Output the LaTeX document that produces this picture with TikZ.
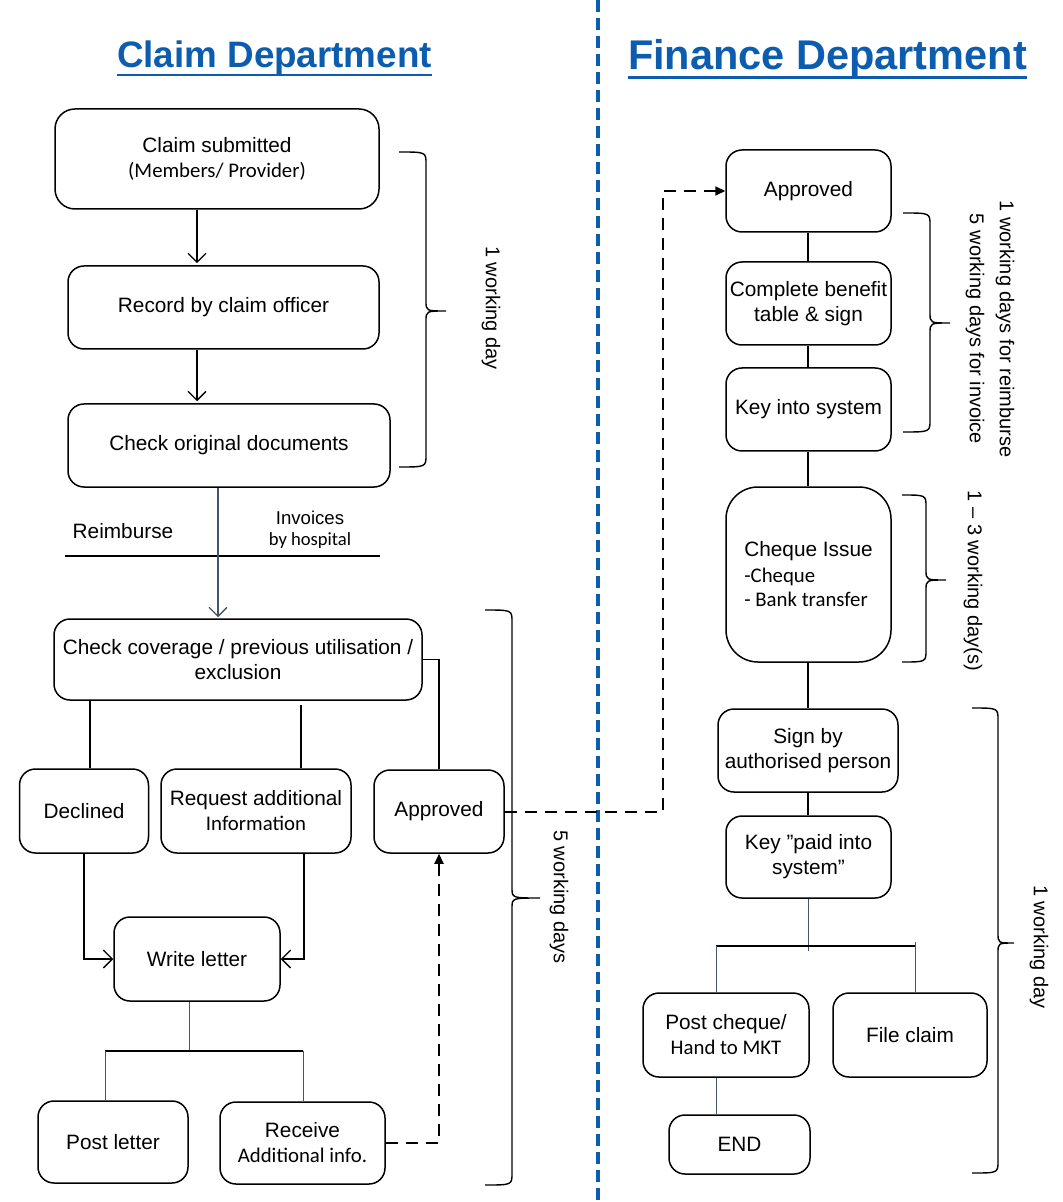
\documentclass[tikz,border=0pt]{standalone}
\usepackage{fontspec}
\setmainfont{Liberation Sans}
\newfontfamily\calib{Carlito}
\usetikzlibrary{arrows.meta,calc}
\definecolor{hblue}{RGB}{12,92,175}
\definecolor{slate}{RGB}{68,84,106}
\tikzset{
  box/.style={draw, line width=0.75pt, rounded corners=8pt, align=center, inner sep=0pt,
    font=\fontsize{10.4pt}{12.5pt}\selectfont},
  lbl/.style={align=center, inner sep=0pt, font=\fontsize{10.4pt}{12.5pt}\selectfont},
  conn/.style={line width=0.65pt},
  arr/.style={conn, -{Straight Barb[length=4.5pt,width=9pt]}},
  dsh/.style={line width=1pt, dash pattern=on 6pt off 4pt, -{Triangle[length=5pt,width=4.5pt]}},
  thinl/.style={draw=slate, line width=0.5pt},
  brc/.style={line width=0.7pt},
  rot/.style={rotate=-90, font=\fontsize{10pt}{15pt}\selectfont, align=center, inner sep=0pt},
  head/.style={text=hblue, font=\bfseries, inner sep=0pt, anchor=base},
}
\begin{document}
\begin{tikzpicture}[x=0.5pt,y=-0.5pt]
\useasboundingbox (0,0) rectangle (1063,1202);

% headers
\node[head, font=\bfseries\fontsize{18.4pt}{20pt}\selectfont] (hc) at (274.5,68) {Claim Department};
\node[head, font=\bfseries\fontsize{20.75pt}{22pt}\selectfont] (hf) at (827.5,70) {Finance Department};
\coordinate (u1) at (0,75);
\coordinate (u2) at (0,77.5);
\draw[hblue, line width=1.4pt] (hc.west |- u1) -- (hc.east |- u1);
\draw[hblue, line width=1.9pt] (hf.west |- u2) -- (hf.east |- u2);

% divider
\coordinate (dtop) at (598,0);
\coordinate (dbot) at (598,1202);
\draw[hblue, line width=2pt, dash pattern=on 6pt off 3pt] (dtop) -- (dbot);

% ---------- Claim department ----------
\node[box, rounded corners=10pt, minimum width=162pt, minimum height=50pt] (cs) at (217,159)
  {Claim submitted\\{\calib (Members/ Provider)}};
\node[box, minimum width=155.5pt, minimum height=41.5pt] (rec) at (223.5,307.5) {Record by claim officer};
\node[box, minimum width=161pt, minimum height=41.5pt] (cod) at (229,445.5) {Check original documents};

\coordinate (a1) at (197,0);
\draw[arr] (cs.south -| a1) -- ($(rec.north -| a1)+(0,-2)$);
\draw[arr] (rec.south -| a1) -- ($(cod.north -| a1)+(0,-2)$);

\node[lbl] (reim) at (123,531) {Reimburse};
\node[lbl, font=\fontsize{9.3pt}{10.5pt}\selectfont] (inv) at (310,530) {Invoices\\{\calib by hospital}};
\coordinate (hl1) at (65,556);
\coordinate (hl2) at (380,556);
\draw[conn] (hl1) -- (hl2);

\node[box, minimum width=184pt, minimum height=40.5pt] (cc) at (238,659.5)
  {Check coverage / previous utilisation /\\exclusion};
\coordinate (a2) at (218,0);
\draw[arr, draw=slate] (cod.south -| a2) -- ($(cc.north -| a2)+(0,-1)$);

\node[box, minimum width=64.5pt, minimum height=42pt] (dec) at (84,811) {Declined};
\node[box, minimum width=95pt, minimum height=42pt] (req) at (256,811)
  {Request additional\\{\calib Information}};
\node[box, minimum width=65pt, minimum height=41.5pt] (app) at (439,811.5) {Approved};

\coordinate (c90) at (90,0);
\coordinate (c301) at (301,0);
\coordinate (c304) at (304,0);
\draw[conn] (cc.east) -| (app.north);
\draw[conn] (cc.south -| c90) -- (dec.north -| c90);
\draw[conn] ($(cc.south -| c301)+(0,4)$) -- (req.north -| c301);

\node[box, minimum width=83pt, minimum height=42pt] (wl) at (197,959) {Write letter};
\draw[arr] (dec.south) |- (wl.west);
\draw[arr] (req.south -| c304) |- (wl.east);

\node[box, minimum width=75pt, minimum height=41pt] (pl) at (113,1142) {Post letter};
\node[box, minimum width=82.5pt, minimum height=41pt] (rc) at (302.5,1143)
  {Receive\\{\calib Additional info.}};

\coordinate (t1) at (189,1051);
\coordinate (t1l) at (105,1051);
\coordinate (t1r) at (303,1051);
\draw[thinl] (wl.south -| t1) -- (t1);
\draw[conn] (t1l) -- (t1r);
\draw[thinl] (t1l) -- (pl.north -| t1l);
\draw[thinl] (t1r) -- (rc.north -| t1r);

\draw[dsh] (rc.east) -| (app.south);

% ---------- Finance department ----------
\node[box, minimum width=82.5pt, minimum height=41pt] (fa) at (808.5,191) {Approved};
\node[box, minimum width=82.5pt, minimum height=41.5pt] (cb) at (808.5,303.5) {Complete benefit\\table \& sign};
\node[box, minimum width=82.5pt, minimum height=41.5pt] (ks) at (808.5,409.5) {Key into system};
\node[box, rounded corners=16pt, minimum width=82.5pt, minimum height=87.5pt, align=left] (ci) at (808.5,574.5)
  {Cheque Issue\\[0.5pt]{\calib -Cheque}\\[-0.5pt]{\calib - Bank transfer}};
\node[box, minimum width=90pt, minimum height=41.5pt] (sp) at (808,750.5) {Sign by\\authorised person};
\node[box, minimum width=82.5pt, minimum height=41pt] (kp) at (808.5,857) {Key ”paid into\\system”};

\coordinate (c663) at (663,500);
\draw[dsh] (app.east) -| (c663) |- (fa.west);

\coordinate (v8) at (808,0);
\draw[conn] (fa.south -| v8) -- (cb.north -| v8);
\draw[conn] (cb.south -| v8) -- (ks.north -| v8);
\draw[conn] (ks.south -| v8) -- (ci.north -| v8);
\draw[conn] (ci.south -| v8) -- (sp.north -| v8);
\draw[conn] (sp.south -| v8) -- (kp.north -| v8);

\node[box, minimum width=83pt, minimum height=42pt] (pc) at (726,1035) {Post cheque/\\{\calib Hand to MKT}};
\node[box, minimum width=77pt, minimum height=42pt] (fc) at (910,1035) {File claim};
\node[box, minimum width=70.5pt, minimum height=29.5pt] (en) at (739.5,1144.5) {END};

\coordinate (t2) at (808,951);
\coordinate (t2l) at (716,946);
\coordinate (t2r) at (915,946);
\coordinate (t2rt) at (915,942);
\draw[thinl] (kp.south -| t2) -- (t2);
\draw[conn] (t2l) -- (t2r);
\draw[thinl] (t2rt) -- (fc.north -| t2rt);
\draw[thinl] (t2l) -- (pc.north -| t2l);
\coordinate (c716) at (716,0);
\draw[thinl] (pc.south -| c716) -- (en.north -| c716);

% ---------- braces ----------
\def\brace#1#2#3#4#5#6{% x0, ytop, ybot, xv, xtip, ymid
  \draw[brc] (#1,#2) .. controls (#4,#2) and (#4,#2) .. (#4,#2+12)
    -- (#4,#6-10) .. controls (#4,#6) and (#4,#6) .. (#5,#6)
    .. controls (#4,#6) and (#4,#6) .. (#4,#6+10)
    -- (#4,#3-12) .. controls (#4,#3) and (#4,#3) .. (#1,#3);}
\brace{399}{152}{467}{426}{446}{311}
\brace{485}{610}{1185}{512}{540}{898}
\brace{903}{213}{432}{930}{950}{323}
\brace{902}{495}{662}{926}{946}{580}
\brace{972}{708}{1173}{998}{1014}{943}

\node[rot] (b1) at (491,308) {1 working day};
\node[rot] (b2) at (559,897) {5 working days};
\node[rot] (b3) at (990,329) {1 working days for reimburse\\5 working days for invoice};
\node[rot] (b4) at (973,581) {1 – 3 working day(s)};
\node[rot] (b5) at (1039,947) {1 working day};
\end{tikzpicture}
\end{document}
